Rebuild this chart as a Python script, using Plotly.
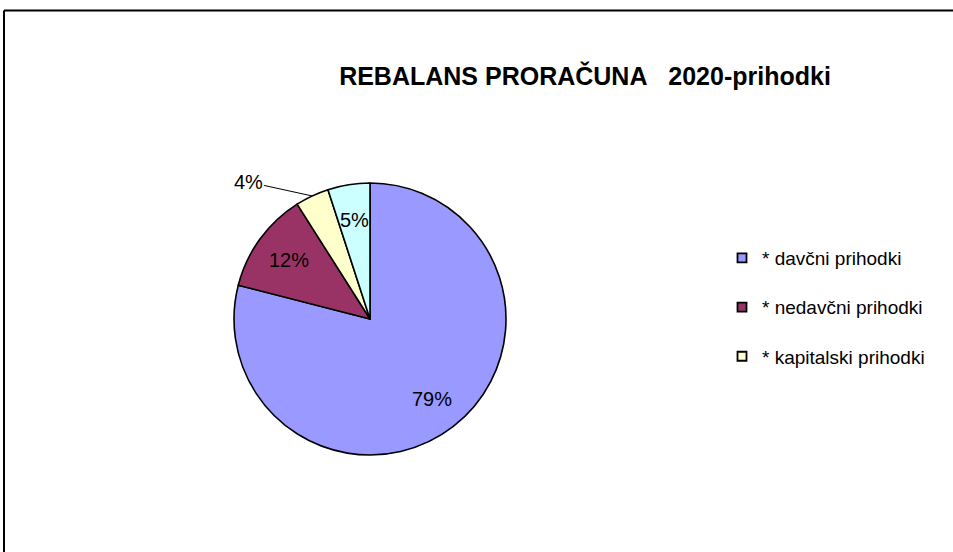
import math
import plotly.graph_objects as go

categories = ["* davčni prihodki", "* nedavčni prihodki", "* kapitalski prihodki", "* ostali prihodki"]
values = [79, 12, 4, 5]
colors = ["#9999FF", "#993366", "#FFFFCC", "#CCFFFF"]
legend_count = 3
outside_idx = 2

W, H = 953, 552
cx, cy, r = 370, 319, 136
FONT = "Liberation Sans, Arial, sans-serif"

fig = go.Figure()
fig.add_trace(go.Pie(
    labels=categories, values=values, sort=False, direction="clockwise", rotation=0,
    marker=dict(colors=colors, line=dict(color="black", width=1.6)),
    textinfo="none",
    showlegend=False,
    domain=dict(x=[(cx - r) / W, (cx + r) / W], y=[1 - (cy + r) / H, 1 - (cy - r) / H]),
    automargin=False,
))
for i in range(legend_count):
    fig.add_trace(go.Scatter(
        x=[None], y=[None], mode="markers", name=categories[i], legendgroup=str(i),
        marker=dict(symbol="square", size=9, color=colors[i], line=dict(color="black", width=1.8)),
    ))

# percentage labels placed along each slice's mid-angle
total = sum(values)
annotations = []
cum = 0
for i, v in enumerate(values):
    mid = (cum + v / 2) / total * 2 * math.pi
    cum += v
    pct = round(v / total * 100)
    if i == outside_idx:
        ex = cx + r * math.sin(mid)
        ey = cy - r * math.cos(mid)
        annotations.append(dict(
            x=ex / W, y=1 - ey / H, xref="paper", yref="paper",
            text=f"{pct}%", showarrow=True, arrowhead=0, arrowwidth=1, arrowcolor="black",
            ax=-64, ay=-14, font=dict(family=FONT, size=20, color="black"),
        ))
    else:
        f = 0.74
        tx = cx + f * r * math.sin(mid)
        ty = cy - f * r * math.cos(mid)
        annotations.append(dict(
            x=tx / W, y=1 - ty / H, xref="paper", yref="paper", showarrow=False,
            xanchor="center", yanchor="middle",
            text=f"{pct}%", font=dict(family=FONT, size=20, color="black"),
        ))

fig.update_layout(
    width=W, height=H, margin=dict(l=0, r=0, t=0, b=0),
    paper_bgcolor="white", plot_bgcolor="white",
    xaxis=dict(visible=False), yaxis=dict(visible=False),
    title=dict(text="<b>REBALANS PRORAČUNA&nbsp;&nbsp;&nbsp;2020-prihodki</b>", x=585 / W, xanchor="center",
               y=1 - 76 / H, yanchor="middle",
               font=dict(family=FONT, size=25, color="black")),
    legend=dict(x=722 / W, y=1 - 239 / H, xanchor="left", yanchor="top",
                font=dict(family=FONT, size=19, color="black"),
                tracegroupgap=21.5, itemwidth=30, bgcolor="rgba(0,0,0,0)"),
    annotations=annotations,
    shapes=[
        dict(type="line", xref="paper", yref="paper", x0=4 / W, x1=1.02, y0=1 - 10.5 / H, y1=1 - 10.5 / H,
             line=dict(color="black", width=2)),
        dict(type="line", xref="paper", yref="paper", x0=4 / W, x1=4 / W, y0=1 - 10.5 / H, y1=-0.02,
             line=dict(color="black", width=2)),
    ],
)
fig.write_html("out.html", post_script="document.body.style.margin='0';",
               config={"displayModeBar": False})
